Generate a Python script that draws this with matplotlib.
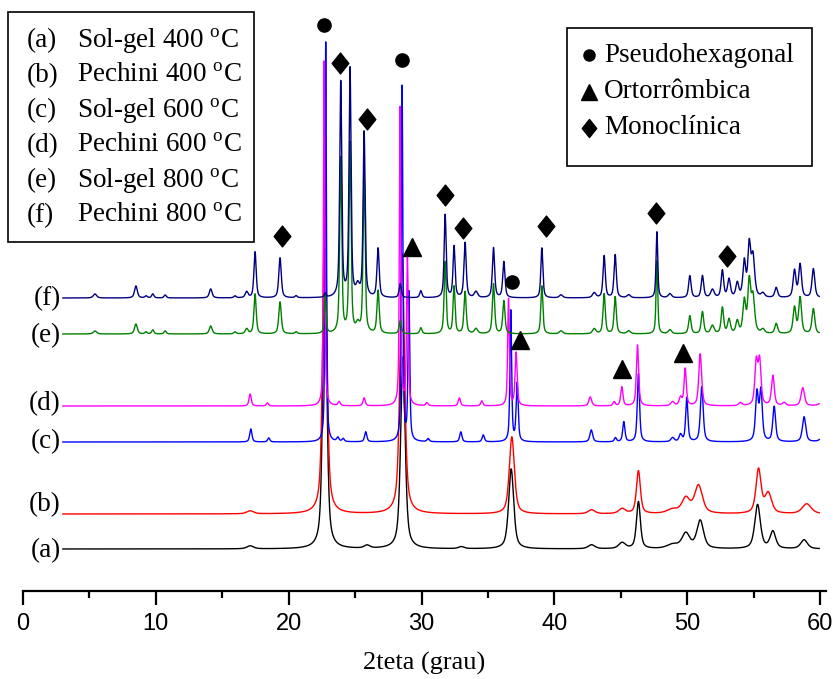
import numpy as np
import matplotlib
matplotlib.use("Agg")
import matplotlib.pyplot as plt
from matplotlib.patches import Rectangle
from matplotlib.path import Path

# --- diffraction peaks: position (2theta), height (a.u.), FWHM (deg) ---

# (a) Sol-gel 400 C
pos_a = [17.1, 22.72, 25.9, 28.6, 33.0, 36.75, 42.8, 45.1, 46.33, 48.9, 49.9, 50.98, 55.3, 56.45, 58.8]
int_a = [3, 300, 3, 192, 2, 80, 4, 6, 47, 4, 15, 28, 44, 17, 9]
fw_a = [0.6, 0.35, 0.5, 0.4, 0.5, 0.45, 0.6, 0.6, 0.35, 1.0, 0.7, 0.6, 0.5, 0.5, 0.6]

# (b) Pechini 400 C
pos_b = [17.1, 22.72, 28.55, 36.8, 42.8, 45.1, 46.33, 48.9, 49.9, 50.85, 55.37, 56.1, 59.0]
int_b = [3, 330, 260, 77, 4, 5, 43, 4, 15, 28, 44, 20, 10]
fw_b = [0.6, 0.35, 0.4, 0.45, 0.6, 0.6, 0.35, 1.0, 0.7, 0.7, 0.45, 0.6, 0.8]

# (c) Sol-gel 600 C
pos_c = [17.15, 18.5, 22.79, 23.7, 24.1, 25.8, 28.54, 29.05, 30.5, 32.96, 34.65, 36.72, 37.2,
         42.78, 44.6, 45.23, 46.33, 48.9, 49.5, 49.97, 51.1, 55.25, 55.55, 56.55, 58.8, 60.3]
int_c = [13, 4, 400, 4, 3, 10, 355, 148, 3, 10, 7, 131, 58,
         12, 4, 20, 68, 4, 7, 44, 55, 48, 50, 35, 25, 12]
fw_c = [0.2, 0.2, 0.12, 0.2, 0.2, 0.2, 0.13, 0.15, 0.2, 0.2, 0.2, 0.15, 0.18,
        0.25, 0.2, 0.2, 0.2, 0.3, 0.25, 0.2, 0.25, 0.25, 0.25, 0.25, 0.3, 0.4]

# (d) Pechini 600 C
pos_d = [17.1, 18.4, 22.67, 23.8, 25.68, 28.39, 28.94, 30.4, 32.85, 34.54, 36.55, 37.12,
         42.7, 44.5, 45.08, 46.26, 48.9, 49.5, 49.85, 50.98, 54.0, 55.2, 55.45, 56.45, 57.3, 58.7, 60.3]
int_d = [12, 3, 345, 4, 8, 298, 147, 3, 8, 5, 107, 53,
         9, 4, 19, 61, 4, 8, 37, 52, 3, 43, 44, 30, 3, 18, 12]
fw_d = [0.2, 0.2, 0.12, 0.2, 0.2, 0.13, 0.15, 0.2, 0.2, 0.2, 0.15, 0.18,
        0.25, 0.2, 0.2, 0.2, 0.3, 0.25, 0.2, 0.25, 0.3, 0.25, 0.25, 0.25, 0.3, 0.3, 0.4]

# (e) Sol-gel 800 C and (f) Pechini 800 C share the monoclinic reflections
pos_ef = [5.42, 8.5, 9.26, 9.77, 10.7, 14.13, 15.96, 16.84, 17.47, 19.35, 20.56, 22.75,
          23.92, 24.62, 25.2, 25.68, 26.73, 28.4, 29.95, 31.78, 32.45, 33.28, 34.1, 35.42,
          36.2, 39.06, 40.5, 43.0, 43.75, 44.58, 45.6, 47.72, 48.7, 50.2, 51.15, 51.9,
          52.65, 53.15, 53.77, 54.3, 54.67, 54.95, 55.7, 56.7, 58.08, 58.5, 59.5]
fw_ef = [0.3, 0.25, 0.2, 0.2, 0.2, 0.25, 0.2, 0.25, 0.2, 0.22, 0.2, 0.15,
         0.18, 0.18, 0.3, 0.18, 0.2, 0.2, 0.2, 0.18, 0.18, 0.2, 0.3, 0.2,
         0.2, 0.18, 0.3, 0.3, 0.2, 0.2, 0.3, 0.15, 0.3, 0.22, 0.22, 0.3,
         0.22, 0.25, 0.25, 0.25, 0.25, 0.3, 0.3, 0.25, 0.25, 0.25, 0.25]
int_e = [3, 10, 2, 4, 3, 8, 2, 5, 40, 32, 2, 38,
         175, 190, 8, 160, 43, 13, 6, 72, 47, 42, 5, 50,
         33, 48, 3, 5, 40, 37, 3, 73, 4, 18, 22, 8,
         26, 14, 12, 32, 50, 36, 4, 10, 26, 36, 25]
int_f = [4, 12, 2, 4, 3, 9, 2, 6, 46, 40, 2, 4,
         215, 228, 10, 165, 49, 14, 7, 83, 51, 55, 6, 50,
         36, 50, 3, 5, 42, 43, 3, 66, 4, 22, 22, 8,
         27, 18, 14, 35, 50, 40, 4, 10, 27, 33, 29]

labels = ["(a)", "(b)", "(c)", "(d)", "(e)", "(f)"]
names = ["Sol-gel 400", "Pechini 400", "Sol-gel 600", "Pechini 600", "Sol-gel 800", "Pechini 800"]
offsets = [42, 77, 149, 185, 257, 293]
colors = ["#000000", "#FF0000", "#0000FF", "#FF00FF", "#008000", "#000080"]
label_shift = [-2, 9, 0, 2, -2, -1]

# phase markers: 2theta, height (a.u.)
hex_x = [22.66, 28.52, 36.8]
hex_y = [566, 531, 309]
orto_x = [29.29, 37.42, 45.08, 49.65]
orto_y = [344, 251, 222, 238]
mono_x = [19.47, 23.87, 25.88, 31.78, 33.13, 39.36, 47.64, 53.03]
mono_y = [355, 528, 472, 396, 363, 365, 378, 335]

# slightly tall diamond, like the symbol font one
diamond = Path([(0, 1), (0.8, 0), (0, -1), (-0.8, 0), (0, 1)],
               [Path.MOVETO, Path.LINETO, Path.LINETO, Path.LINETO, Path.CLOSEPOLY])


def pseudo_voigt(x, pos, h, fwhm, eta=0.6):
    u = (x - pos) / fwhm
    return h * (eta / (1 + 4 * u ** 2) + (1 - eta) * np.exp(-4 * np.log(2) * u ** 2))


def pattern(x, pos, heights, widths, base):
    y = np.full_like(x, float(base))
    for p, h, w in zip(pos, heights, widths):
        y += pseudo_voigt(x, p, h, w)
    return y


plt.rcParams["font.family"] = ["Liberation Serif", "DejaVu Serif"]
plt.rcParams["mathtext.fontset"] = "custom"
plt.rcParams["mathtext.rm"] = "Liberation Serif"

W, H = 833, 679
fig = plt.figure(figsize=(W / 100, H / 100), dpi=100)
ax = fig.add_axes([23 / W, 88 / H, 803 / W, 591 / H])
ax.set_xlim(0, 60.45)
ax.set_ylim(0, 591)

tth = np.arange(3.0, 59.95, 0.01)
peaks = [(pos_a, int_a, fw_a), (pos_b, int_b, fw_b), (pos_c, int_c, fw_c),
         (pos_d, int_d, fw_d), (pos_ef, int_e, fw_ef), (pos_ef, int_f, fw_ef)]
for (p, h, w), off, c, lab, dy in zip(peaks, offsets, colors, labels, label_shift):
    ax.plot(tth, pattern(tth, p, h, w, off), color=c, lw=1.0)
    ax.text(2.85, off + dy, lab, ha="right", va="center", fontsize=19.5)

ax.plot(hex_x, hex_y, "o", color="k", ms=9.5, clip_on=False)
ax.plot(orto_x, orto_y, "^", color="k", ms=13, clip_on=False)
ax.plot(mono_x, mono_y, marker=diamond, ls="none", color="k", ms=15, clip_on=False)

for s in ["left", "right", "top"]:
    ax.spines[s].set_visible(False)
ax.spines["bottom"].set_linewidth(1.6)
ax.set_yticks([])
ax.set_xticks(range(0, 61, 10))
ax.set_xticks(range(5, 60, 10), minor=True)
ax.tick_params(axis="x", which="major", direction="out", length=10, width=1.6, pad=6)
ax.tick_params(axis="x", which="minor", direction="out", length=5, width=1.6)
for t in ax.get_xticklabels():
    t.set_fontfamily(["Liberation Sans Narrow", "Liberation Sans"])
    t.set_fontsize(17)
ax.set_xlabel("2teta (grau)", fontsize=19, labelpad=12)

# sample legend (upper left)
fig.add_artist(Rectangle((8 / W, 1 - 242 / H), 246 / W, 230 / H, transform=fig.transFigure,
                         fill=False, ec="k", lw=1.2))
for i, (lab, nm) in enumerate(zip(labels, names)):
    y = 1 - (41 + 35 * i) / H
    fig.text(27 / W, y, lab, ha="left", va="center", fontsize=19.5)
    fig.text(77 / W, y, nm + r" $^{\rm o}$C", ha="left", va="center", fontsize=19.5)

# phase legend (upper right)
fig.add_artist(Rectangle((567 / W, 1 - 166 / H), 245 / W, 138 / H, transform=fig.transFigure,
                         fill=False, ec="k", lw=1.2))
phases = [("o", 8, "Pseudohexagonal"), ("^", 11, "Ortorrômbica"), (diamond, 13, "Monoclínica")]
for i, (m, ms, txt) in enumerate(phases):
    y = 1 - (55 + 36.5 * i) / H
    ax.plot([589 / W], [y], marker=m, ls="none", color="k", ms=ms,
            transform=fig.transFigure, clip_on=False)
    fig.text(604 / W, y, txt, ha="left", va="center", fontsize=19.5)

fig.savefig("out.png", dpi=100)
